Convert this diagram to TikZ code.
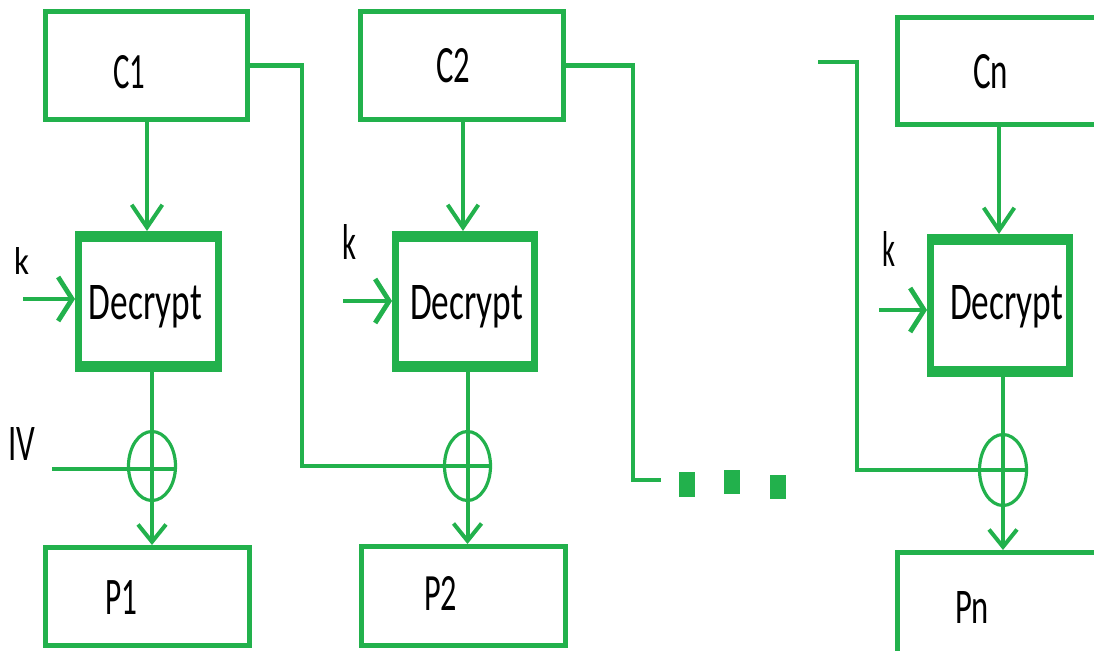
\documentclass[tikz,border=0pt]{standalone}
\usepackage{graphicx}
\usepackage{fontspec}
\setmainfont{Carlito}
\usetikzlibrary{arrows.meta,fit,shapes.geometric}
\definecolor{pg}{HTML}{22B14C}
\newdimen\pxu \pxu=0.75pt
\newcommand\lbl[3]{\resizebox{#1\pxu}{#2\pxu}{#3}}
\begin{document}
\begin{tikzpicture}[x=0.75pt,y=-0.75pt,
  cbox/.style={draw=pg, line width=3.75pt, inner sep=0pt},
  dbox/.style={draw=pg, line width=5.25pt, inner sep=0pt},
  xorc/.style={draw=pg, line width=2.4pt, ellipse, inner sep=0pt},
  txt/.style={anchor=base, inner sep=0pt, outer sep=0pt, text=black},
  wire/.style={draw=pg, line width=3pt},
  kwire/.style={draw=pg, line width=3.6pt, line join=miter},
  cdtip/.style={-{Straight Barb[length=17pt,width=23pt]}},
  dptip/.style={-{Straight Barb[length=13pt,width=21pt]}},
  ktip/.style={-{Straight Barb[length=10.5pt,width=33pt]}}
]
\useasboundingbox (0,0) rectangle (1094,650);
\clip (0,0) rectangle (1094,650);

% ---------- column 1 ----------
\node[cbox, fit={(45.5,11.5)(247.5,119.5)}] (c1) {};
\node[txt] (c1t) at (129,88) {\lbl{32}{33}{C1}};
\node[dbox, fit={(78.5,234.5)(218.5,368.5)}] (d1) {};
\fill[pg] (d1.north west) rectangle ([yshift=-8.25pt]d1.north east);
\fill[pg] (d1.south west) rectangle ([yshift=8.25pt]d1.south east);
\node[txt] (d1t) at (145.5,319) {\lbl{113}{34}{Decrypt}};
\node[xorc, minimum width=35.25pt, minimum height=51.75pt] (x1) at (152,466) {};
\node[cbox, fit={(45.5,547.5)(249.5,645.5)}] (p1) {};
\node[txt] (p1t) at (121,614) {\lbl{32}{34}{P1}};
\node[txt] (k1) at (21.5,274) {\lbl{15}{27}{k}};
\node[txt] (iv) at (21.5,460) {\lbl{27}{33}{IV}};

% ---------- column 2 ----------
\node[cbox, fit={(360.5,11.5)(563.5,119.5)}] (c2) {};
\node[txt] (c2t) at (453,82) {\lbl{34}{34}{C2}};
\node[dbox, fit={(395.5,234.5)(534.5,368.5)}] (d2) {};
\fill[pg] (d2.north west) rectangle ([yshift=-8.25pt]d2.north east);
\fill[pg] (d2.south west) rectangle ([yshift=8.25pt]d2.south east);
\node[txt] (d2t) at (466.5,319) {\lbl{113}{34}{Decrypt}};
\node[xorc, minimum width=34.5pt, minimum height=51.75pt] (x2) at (467.5,466) {};
\node[cbox, fit={(361.5,546.5)(565.5,645.5)}] (p2) {};
\node[txt] (p2t) at (440.5,610) {\lbl{33}{34}{P2}};
\node[txt] (k2) at (349,259) {\lbl{14}{35}{k}};

% ---------- column n ----------
\node[cbox, fit={(897.5,17.5)(1130,124.5)}] (cn) {};
\node[txt] (cnt) at (990.5,88) {\lbl{35}{34}{Cn}};
\node[dbox, fit={(930.5,237.5)(1069.5,373.5)}] (dn) {};
\fill[pg] (dn.north west) rectangle ([yshift=-8.25pt]dn.north east);
\fill[pg] (dn.south west) rectangle ([yshift=8.25pt]dn.south east);
\node[txt] (dnt) at (1006.5,319) {\lbl{113}{34}{Decrypt}};
\node[xorc, minimum width=35.25pt, minimum height=53.25pt] (xn) at (1003,470) {};
\node[cbox, fit={(897.5,552.5)(1130,700)}] (pn) {};
\node[txt] (pnt) at (972,623) {\lbl{34}{32}{Pn}};
\node[txt] (kn) at (889,266) {\lbl{13}{35}{k}};

% ---------- helper coordinates ----------
\coordinate (a1) at (147,0);
\coordinate (b1) at (152,0);
\coordinate (a2) at (463,0);
\coordinate (b2) at (467.5,0);
\coordinate (an) at (999,0);
\coordinate (bn) at (1003,0);
\coordinate (k1s) at (23,299);
\coordinate (k2s) at (343,301);
\coordinate (kns) at (879,310);
\coordinate (ivs) at (52,469);
\coordinate (f1) at (302,0);
\coordinate (f2) at (633,0);
\coordinate (f2e) at (661,480);
\coordinate (f3s) at (818,62);
\coordinate (f3) at (857,0);

% ---------- connectors ----------
\draw[wire, cdtip] (c1.south -| a1) -- (d1.north -| a1);
\draw[wire, dptip] (d1.south -| b1) -- (p1.north -| b1);
\draw[kwire, ktip] (k1s) -- (k1s -| d1.west);
\draw[kwire] (ivs) -- (ivs -| x1.east);

\draw[wire, cdtip] (c2.south -| a2) -- (d2.north -| a2);
\draw[wire, dptip] (d2.south -| b2) -- (p2.north -| b2);
\draw[kwire, ktip] (k2s) -- (k2s -| d2.west);

\draw[wire, cdtip] (cn.south -| an) -- (dn.north -| an);
\draw[wire, dptip] (dn.south -| bn) -- (pn.north -| bn);
\draw[kwire, ktip] (kns) -- (kns -| dn.west);

\draw[kwire] (c1.east) -| (x2 -| f1) -- (x2.east);
\draw[kwire] (c2.east) -| (f2e -| f2) -- (f2e);
\draw[kwire] (f3s) -| (xn -| f3) -- (xn.east);

% ---------- ellipsis dots ----------
\fill[pg] (679,472) rectangle (695,497);
\fill[pg] (724,470) rectangle (740,494);
\fill[pg] (770,475) rectangle (786,499);
\end{tikzpicture}
\end{document}
